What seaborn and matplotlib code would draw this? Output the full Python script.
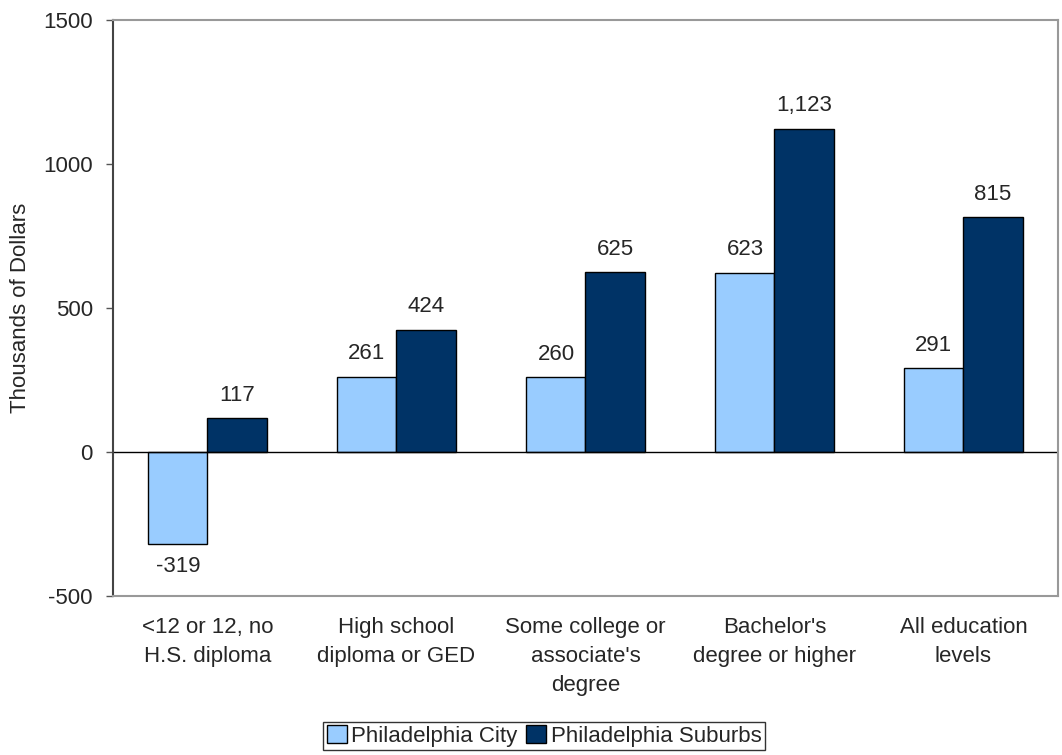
import pandas as pd
import matplotlib.pyplot as plt
import seaborn as sns

sns.set_theme(style='white')
plt.rcParams['font.family'] = ['Liberation Sans', 'DejaVu Sans']
plt.rcParams['axes.unicode_minus'] = False

categories = ['<12 or 12, no\nH.S. diploma', 'High school\ndiploma or GED',
              "Some college or\nassociate's\ndegree", "Bachelor's\ndegree or higher",
              'All education\nlevels']
city = [-319, 261, 260, 623, 291]
suburbs = [117, 424, 625, 1123, 815]
series = ['Philadelphia City', 'Philadelphia Suburbs']

df = pd.DataFrame({
    'category': categories * 2,
    'area': [series[0]] * 5 + [series[1]] * 5,
    'value': city + suburbs,
})

fs = 16
fig = plt.figure(figsize=(10.62, 7.55), dpi=100)
ax = fig.add_axes([0.1064, 0.2106, 0.8898, 0.7629])

ax = sns.barplot(data=df, x='category', y='value', hue='area', hue_order=series,
                 palette=['#99CCFF', '#003366'], width=0.625, edgecolor='black',
                 linewidth=1, saturation=1, errorbar=None, ax=ax)

for cont in ax.containers:
    ax.bar_label(cont, labels=[f'{v:,.0f}' for v in cont.datavalues], padding=9, fontsize=fs)

ax.axhline(0, color='black', linewidth=1)
ax.set_ylim(-500, 1500)
ax.set_yticks([-500, 0, 500, 1000, 1500])
ax.set_xlim(-0.5, 4.5)
ax.tick_params(axis='y', left=True, length=5, width=1, color='#555555', labelsize=fs, pad=9.5)
ax.tick_params(axis='x', bottom=False, labelsize=fs, pad=9)
for lbl in ax.get_xticklabels():
    lbl.set_linespacing(1.5)
ax.set_xlabel('')
ax.set_ylabel('Thousands of Dollars', fontsize=fs, labelpad=9)

for side in ['top', 'right', 'bottom']:
    ax.spines[side].set_color('#999999')
    ax.spines[side].set_linewidth(1.5)
ax.spines['left'].set_color('#444444')
ax.spines['left'].set_linewidth(1.5)

ax.legend(loc='center', bbox_to_anchor=(0.456, -0.243), ncol=2, frameon=True,
          fancybox=False, edgecolor='black', fontsize=fs, handlelength=0.9,
          handleheight=0.9, handletextpad=0.2, columnspacing=0.4,
          borderpad=0.15, borderaxespad=0)
ax.get_legend().get_frame().set_linewidth(1)

fig.savefig('out.png', dpi=100)
